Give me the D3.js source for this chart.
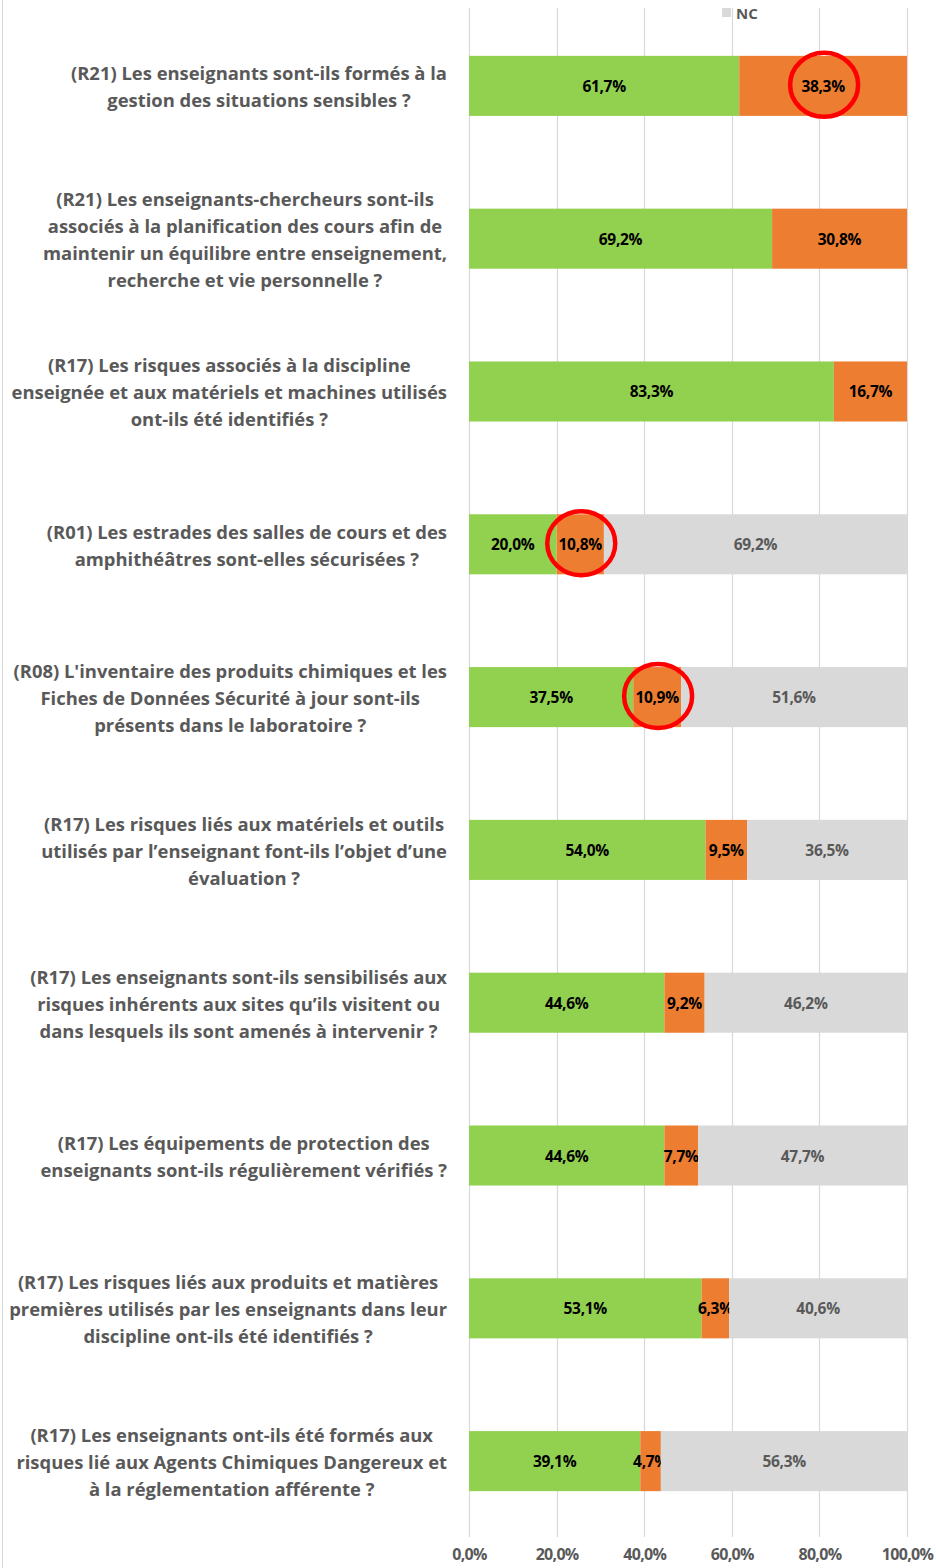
<!DOCTYPE html>
<html><head><meta charset="utf-8">
<script src="https://cdn.jsdelivr.net/npm/d3@7"></script>
<style>html,body{margin:0;padding:0;background:#fff;}svg{display:block;}</style>
</head><body>
<svg id="chart" width="936" height="1568"></svg>
<script>
const categories = [
  ["(R21) Les enseignants sont-ils formés à la", "gestion des situations sensibles ?"],
  ["(R21) Les enseignants-chercheurs sont-ils", "associés à la planification des cours afin de", "maintenir un équilibre entre enseignement,", "recherche et vie personnelle ?"],
  ["(R17) Les risques associés à la discipline", "enseignée et aux matériels et machines utilisés", "ont-ils été identifiés ?"],
  ["(R01) Les estrades des salles de cours et des", "amphithéâtres sont-elles sécurisées ?"],
  ["(R08) L'inventaire des produits chimiques et les", "Fiches de Données Sécurité à jour sont-ils", "présents dans le laboratoire ?"],
  ["(R17) Les risques liés aux matériels et outils", "utilisés par l’enseignant font-ils l’objet d’une", "évaluation ?"],
  ["(R17) Les enseignants sont-ils sensibilisés aux", "risques inhérents aux sites qu’ils visitent ou", "dans lesquels ils sont amenés à intervenir ?"],
  ["(R17)  Les équipements de protection des", "enseignants sont-ils régulièrement vérifiés ?"],
  ["(R17) Les risques liés aux produits et matières", "premières utilisés par les enseignants dans leur", "discipline ont-ils été identifiés ?"],
  ["(R17) Les enseignants ont-ils été formés aux", "risques lié aux Agents Chimiques Dangereux et", "à la réglementation afférente ?"]
];
const seriesNames = ["Oui", "Non", "NC"];
const oui = [61.7, 69.2, 83.3, 20.0, 37.5, 54.0, 44.6, 44.6, 53.1, 39.1];
const non = [38.3, 30.8, 16.7, 10.8, 10.9, 9.5, 9.2, 7.7, 6.3, 4.7];
const nc  = [0, 0, 0, 69.2, 51.6, 36.5, 46.2, 47.7, 40.6, 56.3];
const tickValues = [0, 20, 40, 60, 80, 100];
const legendShown = ["NC"];
const circled = [[0, "Non"], [3, "Non"], [4, "Non"]];

const colors = {"Oui": "#92D050", "Non": "#ED7D31", "NC": "#D9D9D9"};
const labelColors = {"Oui": "#000000", "Non": "#000000", "NC": "#595959"};
const font = "'Open Sans', 'Noto Sans', sans-serif";

const svg = d3.select("#chart");
const x = d3.scaleLinear().domain([0, 100]).range([469, 907]);
const y = d3.scaleBand().domain(d3.range(categories.length)).range([10, 1537]).paddingInner(0.607).paddingOuter(0.3);

// left border
svg.append("line").attr("x1", 2.5).attr("x2", 2.5).attr("y1", 0).attr("y2", 1568)
  .attr("stroke", "#D9D9D9").attr("stroke-width", 1);

// gridlines
svg.append("g").selectAll("line").data(tickValues).join("line")
  .attr("x1", d => Math.round(x(d)) + 0.5).attr("x2", d => Math.round(x(d)) + 0.5)
  .attr("y1", 8).attr("y2", 1537)
  .attr("stroke", "#D9D9D9").attr("stroke-width", 1.2);

// stack
const rows = categories.map((c, i) => ({i, Oui: oui[i], Non: non[i], NC: nc[i]}));
const stack = d3.stack().keys(seriesNames)(rows);

const fmt = v => v.toFixed(1).replace(".", ",") + "%";

stack.forEach(layer => {
  const key = layer.key;
  const g = svg.append("g");
  g.selectAll("rect").data(layer.filter(d => d[1] - d[0] > 0)).join("rect")
    .attr("x", d => x(d[0])).attr("width", d => x(d[1]) - x(d[0]))
    .attr("y", d => y(d.data.i)).attr("height", y.bandwidth())
    .attr("fill", colors[key]);
  g.selectAll("text").data(layer.filter(d => d[1] - d[0] > 0)).join("text")
    .attr("x", d => (x(d[0]) + x(d[1])) / 2)
    .attr("y", d => y(d.data.i) + y.bandwidth() / 2)
    .attr("text-anchor", "middle").attr("dominant-baseline", "central")
    .attr("font-family", font).attr("font-weight", "bold").attr("font-size", 15.5)
    .attr("letter-spacing", -0.3)
    .attr("fill", labelColors[key])
    .text(d => fmt(d.data[key]));
});

// red circles
const layerByKey = Object.fromEntries(stack.map(l => [l.key, l]));
svg.append("g").selectAll("ellipse").data(circled).join("ellipse")
  .attr("cx", d => { const s = layerByKey[d[1]][d[0]]; return (x(s[0]) + x(s[1])) / 2 + 1; })
  .attr("cy", d => y(d[0]) + y.bandwidth() / 2 - 1)
  .attr("rx", 34).attr("ry", 32)
  .attr("fill", "none").attr("stroke", "#FF0000").attr("stroke-width", 4.5);

// category labels
const labelRight = 447;
const targetWidest = 438;
const lineH = 27;
const lg = svg.append("g");
const groups = categories.map((lines, i) => {
  const cy = y(i) + y.bandwidth() / 2;
  const t = lg.append("text")
    .attr("font-family", font).attr("font-weight", "bold").attr("font-size", 18)
    .attr("fill", "#595959").attr("text-anchor", "middle").attr("dominant-baseline", "central");
  const spans = lines.map((ln, k) => t.append("tspan").attr("y", cy + (k - (lines.length - 1) / 2) * lineH).text(ln));
  return {t, spans};
});
let widest = d3.max(groups, g => d3.max(g.spans, s => s.node().getComputedTextLength()));
const fs = 18 * targetWidest / widest;
groups.forEach(g => {
  g.t.attr("font-size", fs);
  const maxW = d3.max(g.spans, s => s.node().getComputedTextLength());
  g.spans.forEach(s => s.attr("x", labelRight - maxW / 2));
});

// x tick labels
const xAxis = d3.axisBottom(x).tickValues(tickValues).tickSize(0).tickFormat(d => d.toFixed(1).replace(".", ",") + "%");
const ax = svg.append("g").attr("transform", "translate(0,1546)").call(xAxis);
ax.select(".domain").remove();
ax.selectAll("text").attr("font-family", font).attr("font-weight", "bold").attr("font-size", 16)
  .attr("letter-spacing", -0.7).attr("fill", "#595959");

// legend
const leg = svg.append("g").selectAll("g").data(legendShown).join("g").attr("transform", "translate(722,8)");
leg.append("rect").attr("width", 9).attr("height", 9).attr("fill", d => colors[d]);
leg.append("text").attr("x", 14).attr("y", 5).attr("dominant-baseline", "central")
  .attr("font-family", font).attr("font-weight", "bold").attr("font-size", 15).attr("fill", "#595959").text(d => d);
</script>
</body></html>
